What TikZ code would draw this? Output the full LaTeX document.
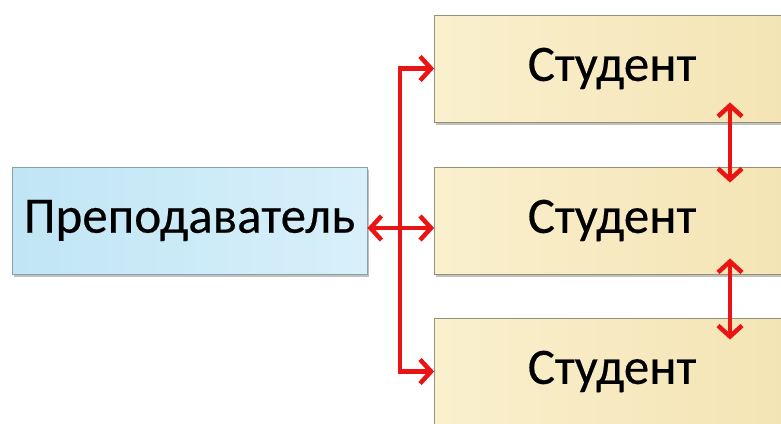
\documentclass[tikz,border=0pt]{standalone}
\usepackage{fontspec}
\setmainfont{Carlito}[FakeBold=0.35]
\usetikzlibrary{arrows.meta,shadows,calc}

\definecolor{tchfillA}{RGB}{216,240,250}
\definecolor{tchfillB}{RGB}{192,229,245}
\definecolor{tchdraw}{RGB}{140,160,170}
\definecolor{stdfillA}{RGB}{250,240,206}
\definecolor{stdfillB}{RGB}{244,228,180}
\definecolor{stddraw}{RGB}{150,144,120}
\definecolor{linkred}{RGB}{235,20,20}

\tikzset{
  box/.style={rectangle, minimum width=355, minimum height=107, inner sep=0pt,
    line width=0.8pt, font=\fontsize{51}{60}\selectfont,
    drop shadow={shadow xshift=1.5pt, shadow yshift=-3pt, opacity=0.35, fill=black!70}},
  teacherbox/.style={box, draw=tchdraw, left color=tchfillB, right color=tchfillA},
  studentbox/.style={box, draw=stddraw, left color=stdfillA, right color=stdfillB},
  tip/.tip={Straight Barb[length=11pt,width=24pt,line width=4.5pt]},
  link/.style={draw=linkred, line width=4.5pt},
}

\begin{document}
\begin{tikzpicture}[x=1pt,y=1pt,yscale=-1,xscale=1]
  \clip (0,0) rectangle (781,423);
  \fill[white] (0,0) rectangle (781,423);

  % Boxes
  \node[teacherbox] (teacher) at (189.5,220.5) {Преподаватель};
  \node[studentbox] (stdA) at (612,68.5)  {Студент};
  \node[studentbox] (stdB) at (612,220.5) {Студент};
  \node[studentbox] (stdC) at (612,371.5) {Студент};

  % Bus joint and right column
  \coordinate (bus) at (400,228);
  \coordinate (col) at (730,0);

  % Teacher <-> students
  \draw[link,tip-tip] (teacher.east |- bus) -- (stdB.west |- bus);
  \draw[link,-tip] (bus) |- (stdA.west);
  \draw[link,-tip] (bus) |- (stdC.west);

  % Student <-> student
  \draw[link,tip-tip] ($(col |- stdA.south)+(0,-20)$) -- ($(col |- stdB.north)+(0,16)$);
  \draw[link,tip-tip] ($(col |- stdB.south)+(0,-16)$) -- ($(col |- stdC.north)+(0,22)$);
\end{tikzpicture}
\end{document}
